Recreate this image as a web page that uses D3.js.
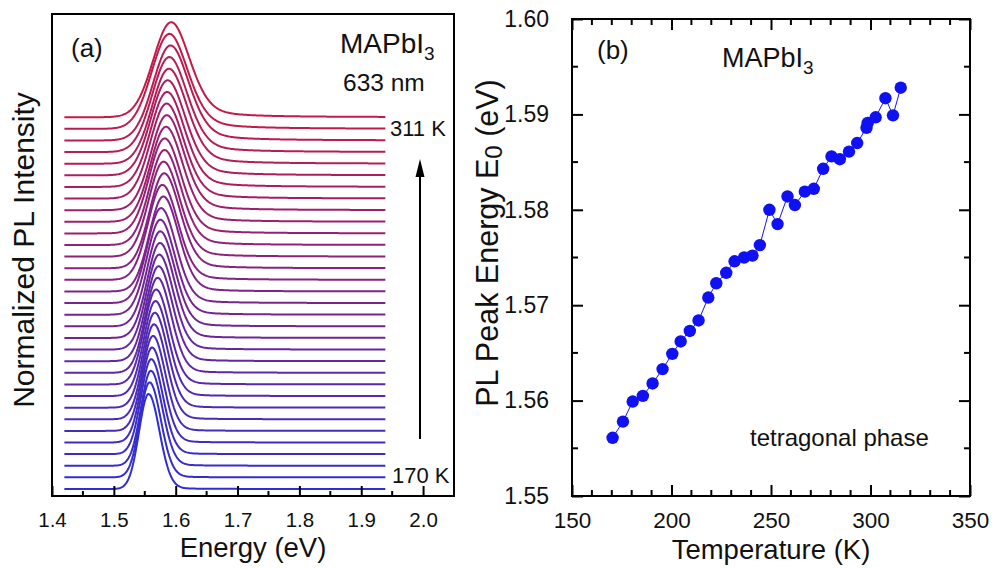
<!DOCTYPE html>
<html><head><meta charset="utf-8">
<script src="https://cdn.jsdelivr.net/npm/d3@7"></script>
<style>
html,body{margin:0;padding:0;background:#fff;}
svg{display:block;font-family:"Liberation Sans", Arial, Helvetica, sans-serif;}
</style></head><body>
<svg id="chart" width="992" height="569"></svg>
<script>
// ---- Panel (b): PL peak energy E0 versus temperature ----
const temperatures = [170.4,175.6,180.5,185.6,190.5,195.5,200.4,204.6,209.2,213.6,218.5,222.5,227.5,231.7,236.5,240.7,244.4,249.2,253.3,258.3,262.0,267.0,271.5,276.2,280.4,284.6,289.2,293.3,298.0,298.6,302.6,307.5,311.3,315.2];
const peakEnergies = [1.5561,1.5578,1.5599,1.5605,1.5618,1.5633,1.5649,1.5662,1.5673,1.5684,1.5708,1.5723,1.5734,1.5746,1.5750,1.5752,1.5763,1.5800,1.5785,1.5814,1.5805,1.5819,1.5822,1.5843,1.5856,1.5853,1.5861,1.5870,1.5886,1.5891,1.5897,1.5917,1.5899,1.5928];
const tempTicks = [150,200,250,300,350];
const energyTicksB = [1.55,1.56,1.57,1.58,1.59,1.60];

// ---- Panel (a): normalized PL spectra, 170 K (bottom) to 311 K (top) ----
const spectraPeaks = [1.5561,1.5578,1.5599,1.5605,1.5618,1.5633,1.5649,1.5662,1.5673,1.5684,1.5708,1.5723,1.5734,1.5746,1.5750,1.5752,1.5763,1.5800,1.5785,1.5814,1.5805,1.5819,1.5822,1.5843,1.5856,1.5853,1.5861,1.5870,1.5891,1.5897,1.5917,1.5899,1.5928];
// half widths (eV) of the low- and high-energy sides, and high-energy tail weight
const lowHalfWidth  = [0.0180,0.0185,0.0190,0.0195,0.0200,0.0205,0.0210,0.0215,0.0220,0.0225,0.0230,0.0235,0.0240,0.0245,0.0250,0.0255,0.0260,0.0265,0.0270,0.0275,0.0280,0.0285,0.0290,0.0295,0.0300,0.0305,0.0310,0.0315,0.0320,0.0325,0.0330,0.0335,0.0340];
const highHalfWidth = [0.0210,0.0215,0.0220,0.0225,0.0230,0.0235,0.0240,0.0245,0.0250,0.0255,0.0260,0.0265,0.0270,0.0275,0.0280,0.0285,0.0290,0.0295,0.0300,0.0305,0.0310,0.0315,0.0320,0.0325,0.0330,0.0335,0.0340,0.0345,0.0350,0.0352,0.0355,0.0358,0.0360];
const tailWeight    = [0.05,0.05,0.06,0.06,0.07,0.07,0.08,0.08,0.09,0.10,0.10,0.11,0.12,0.12,0.13,0.14,0.15,0.16,0.17,0.18,0.19,0.20,0.21,0.22,0.23,0.24,0.25,0.26,0.27,0.28,0.29,0.30,0.30];
const energyTicksA = [1.4,1.5,1.6,1.7,1.8,1.9,2.0];
const spectrumRange = [1.42, 1.94];
const stackStep = 0.1223;

const svg = d3.select("#chart");

// ======================= Panel (a) =======================
const A = {left: 52, right: 454, top: 14, bottom: 496};
const xA = d3.scaleLinear().domain([1.4, 2.05]).range([A.left, A.right]);
const yA = d3.scaleLinear().domain([-0.074, 5.0]).range([A.bottom, A.top]);
const colorA = d3.interpolateRgb("#2e2ed4", "#c61a46");

function lineshape(e, i) {
  const d = e - spectraPeaks[i];
  if (d < 0) {
    const u = d / lowHalfWidth[i];
    return Math.exp(-Math.LN2 * u * u);
  }
  const u = d / highHalfWidth[i];
  const eta = tailWeight[i];
  return (1 - eta) * Math.exp(-Math.LN2 * u * u) + eta / (1 + u * u);
}

const energies = d3.range(spectrumRange[0], spectrumRange[1] + 1e-9, 0.0015);
const gA = svg.append("g");
const lineA = d3.line().x(d => xA(d[0])).y(d => yA(d[1]));
spectraPeaks.forEach((p, i) => {
  const pts = energies.map(e => [e, lineshape(e, i) + i * stackStep]);
  gA.append("path")
    .attr("d", lineA(pts))
    .attr("fill", "none")
    .attr("stroke", colorA(i / (spectraPeaks.length - 1)))
    .attr("stroke-width", 2)
    .attr("stroke-linejoin", "round");
});

// frame
svg.append("rect").attr("x", A.left).attr("y", A.top)
  .attr("width", A.right - A.left).attr("height", A.bottom - A.top)
  .attr("fill", "none").attr("stroke", "#000").attr("stroke-width", 2);

// bottom axis: inward ticks
const axA = d3.axisBottom(xA).tickValues(energyTicksA).tickSize(-10).tickFormat(d3.format(".1f")).tickPadding(16);
const gxA = svg.append("g").attr("transform", `translate(0,${A.bottom})`).call(axA);
gxA.select(".domain").remove();
gxA.selectAll(".tick line").attr("stroke", "#000").attr("stroke-width", 2);
gxA.selectAll(".tick text").attr("font-size", 20.5).attr("fill", "#111").attr("font-family", "Liberation Sans, Arial, sans-serif");
const minorA = d3.range(1.45, 2.05, 0.1);
svg.append("g").selectAll("line").data(minorA).join("line")
  .attr("x1", d => xA(d)).attr("x2", d => xA(d))
  .attr("y1", A.bottom).attr("y2", A.bottom - 5)
  .attr("stroke", "#000").attr("stroke-width", 2);

svg.append("text").attr("x", (A.left + A.right) / 2).attr("y", 557)
  .attr("text-anchor", "middle").attr("font-size", 27.5).attr("fill", "#111")
  .text("Energy (eV)");
svg.append("text").attr("transform", `translate(34,250) rotate(-90)`)
  .attr("text-anchor", "middle").attr("font-size", 30).attr("fill", "#111")
  .text("Normalized PL Intensity");

svg.append("text").attr("x", 71).attr("y", 57).attr("font-size", 26).attr("fill", "#111").text("(a)");
const tA = svg.append("text").attr("x", 340).attr("y", 53).attr("font-size", 28).attr("fill", "#111");
tA.append("tspan").text("MAPbI");
tA.append("tspan").attr("font-size", 19).attr("dy", 7).text("3");
svg.append("text").attr("x", 343).attr("y", 91).attr("font-size", 24.5).attr("fill", "#111").text("633 nm");
svg.append("text").attr("x", 390).attr("y", 136).attr("font-size", 22).attr("fill", "#111").text("311 K");
svg.append("text").attr("x", 392).attr("y", 483).attr("font-size", 22).attr("fill", "#111").text("170 K");

// temperature arrow
svg.append("line").attr("x1", 420).attr("x2", 420).attr("y1", 439).attr("y2", 172)
  .attr("stroke", "#000").attr("stroke-width", 2);
svg.append("path").attr("d", "M420,159 L424.5,177 L415.5,177 Z").attr("fill", "#000");

// ======================= Panel (b) =======================
const B = {left: 572, right: 970, top: 19, bottom: 496};
const xB = d3.scaleLinear().domain([150, 350]).range([B.left, B.right]);
const yB = d3.scaleLinear().domain([1.55, 1.60]).range([B.bottom, B.top]);

const pts = temperatures.map((t, i) => [t, peakEnergies[i]]);
svg.append("path")
  .attr("d", d3.line().x(d => xB(d[0])).y(d => yB(d[1]))(pts))
  .attr("fill", "none").attr("stroke", "#1515f0").attr("stroke-width", 1);
svg.append("g").selectAll("circle").data(pts).join("circle")
  .attr("cx", d => xB(d[0])).attr("cy", d => yB(d[1])).attr("r", 6.2)
  .attr("fill", "#1010f5");

svg.append("rect").attr("x", B.left).attr("y", B.top)
  .attr("width", B.right - B.left).attr("height", B.bottom - B.top)
  .attr("fill", "none").attr("stroke", "#000").attr("stroke-width", 2);

function styleAxis(g, size) {
  g.select(".domain").remove();
  g.selectAll(".tick line").attr("stroke", "#000").attr("stroke-width", 2);
  g.selectAll(".tick text").attr("font-size", size).attr("fill", "#111").attr("font-family", "Liberation Sans, Arial, sans-serif");
}
const gxB = svg.append("g").attr("transform", `translate(0,${B.bottom})`)
  .call(d3.axisBottom(xB).tickValues(tempTicks).tickSize(-11).tickPadding(16));
styleAxis(gxB, 22.5);
const gyB = svg.append("g").attr("transform", `translate(${B.left},0)`)
  .call(d3.axisLeft(yB).tickValues(energyTicksB).tickSize(-11).tickFormat(d3.format(".2f")).tickPadding(23));
styleAxis(gyB, 23);
const gtB = svg.append("g").attr("transform", `translate(0,${B.top})`)
  .call(d3.axisTop(xB).tickValues(tempTicks).tickSize(-11).tickFormat(""));
styleAxis(gtB, 0);
const grB = svg.append("g").attr("transform", `translate(${B.right},0)`)
  .call(d3.axisRight(yB).tickValues(energyTicksB).tickSize(-11).tickFormat(""));
styleAxis(grB, 0);

const minorT = d3.range(160, 350, 10).filter(t => t % 50 !== 0);
const minorE = [1.555, 1.565, 1.575, 1.585, 1.595];
const gm = svg.append("g").attr("stroke", "#000").attr("stroke-width", 2);
minorT.forEach(t => {
  gm.append("line").attr("x1", xB(t)).attr("x2", xB(t)).attr("y1", B.bottom).attr("y2", B.bottom - 6);
  gm.append("line").attr("x1", xB(t)).attr("x2", xB(t)).attr("y1", B.top).attr("y2", B.top + 6);
});
minorE.forEach(e => {
  gm.append("line").attr("x1", B.left).attr("x2", B.left + 6).attr("y1", yB(e)).attr("y2", yB(e));
  gm.append("line").attr("x1", B.right).attr("x2", B.right - 6).attr("y1", yB(e)).attr("y2", yB(e));
});

svg.append("text").attr("x", (B.left + B.right) / 2).attr("y", 559)
  .attr("text-anchor", "middle").attr("font-size", 27.5).attr("fill", "#111")
  .text("Temperature (K)");
const yl = svg.append("text").attr("transform", `translate(498,243) rotate(-90)`)
  .attr("text-anchor", "middle").attr("font-size", 30.5).attr("fill", "#111");
yl.append("tspan").text("PL Peak Energy E");
yl.append("tspan").attr("font-size", 24).attr("dy", 4).text("0");
yl.append("tspan").attr("dy", -4).text(" (eV)");

svg.append("text").attr("x", 597).attr("y", 59).attr("font-size", 26).attr("fill", "#111").text("(b)");
const tB = svg.append("text").attr("x", 722).attr("y", 67).attr("font-size", 27).attr("fill", "#111");
tB.append("tspan").text("MAPbI");
tB.append("tspan").attr("font-size", 19).attr("dy", 7).text("3");
svg.append("text").attr("x", 750).attr("y", 446).attr("font-size", 24).attr("fill", "#111").text("tetragonal phase");
</script>
</body></html>
